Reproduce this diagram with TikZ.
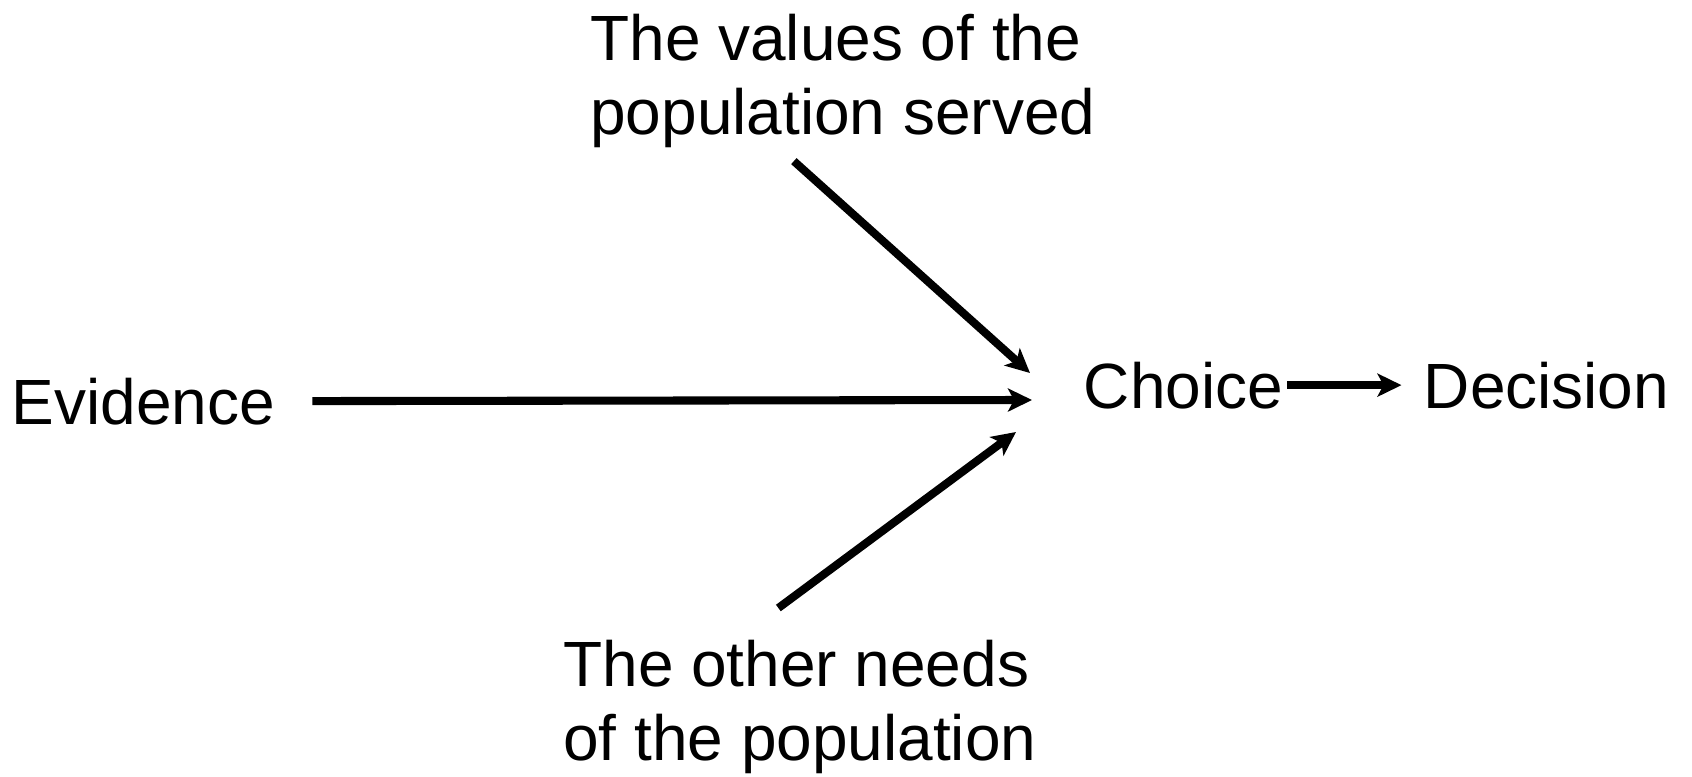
\documentclass[tikz,border=0pt]{standalone}
\usepackage{fontspec}
\setmainfont{Liberation Sans}
\usetikzlibrary{arrows.meta}
\begin{document}
\begin{tikzpicture}[arr/.style={-{Stealth[length=0.48cm,width=0.46cm,inset=0.12cm]},line width=4.6pt},
  lbl/.style={inner sep=0pt,font=\fontsize{36.4}{42}\selectfont}]
\useasboundingbox (0,0) rectangle (33.84,15.52);

\node[lbl,anchor=base] (evidence) at (2.87,7.04) {Evidence};
\node[lbl,anchor=base] (choice) at (23.67,7.36) {Choice};
\node[lbl,anchor=base] (decision) at (30.93,7.36) {Decision};
\node[lbl,anchor=north west,align=left] (values) at (11.8,15.24) {The values of the\\population served};
\node[lbl,anchor=north west,align=left] (needs) at (11.26,2.72) {The other needs\\of the population};

\coordinate (tipTop) at (20.6,8.06);
\coordinate (tipMid) at (20.64,7.52);
\coordinate (tipBot) at (20.32,6.88);

\draw[arr] ([shift={(-0.98,-0.26)}]values.south) -- (tipTop);
\draw[arr,shorten <=0.74cm] (evidence.east) -- (tipMid);
\draw[arr] ([shift={(-0.43,0.64)}]needs.north) -- (tipBot);
\draw[arr,shorten <=0.08cm,shorten >=0.44cm] (choice) -- (decision);

\end{tikzpicture}
\end{document}
